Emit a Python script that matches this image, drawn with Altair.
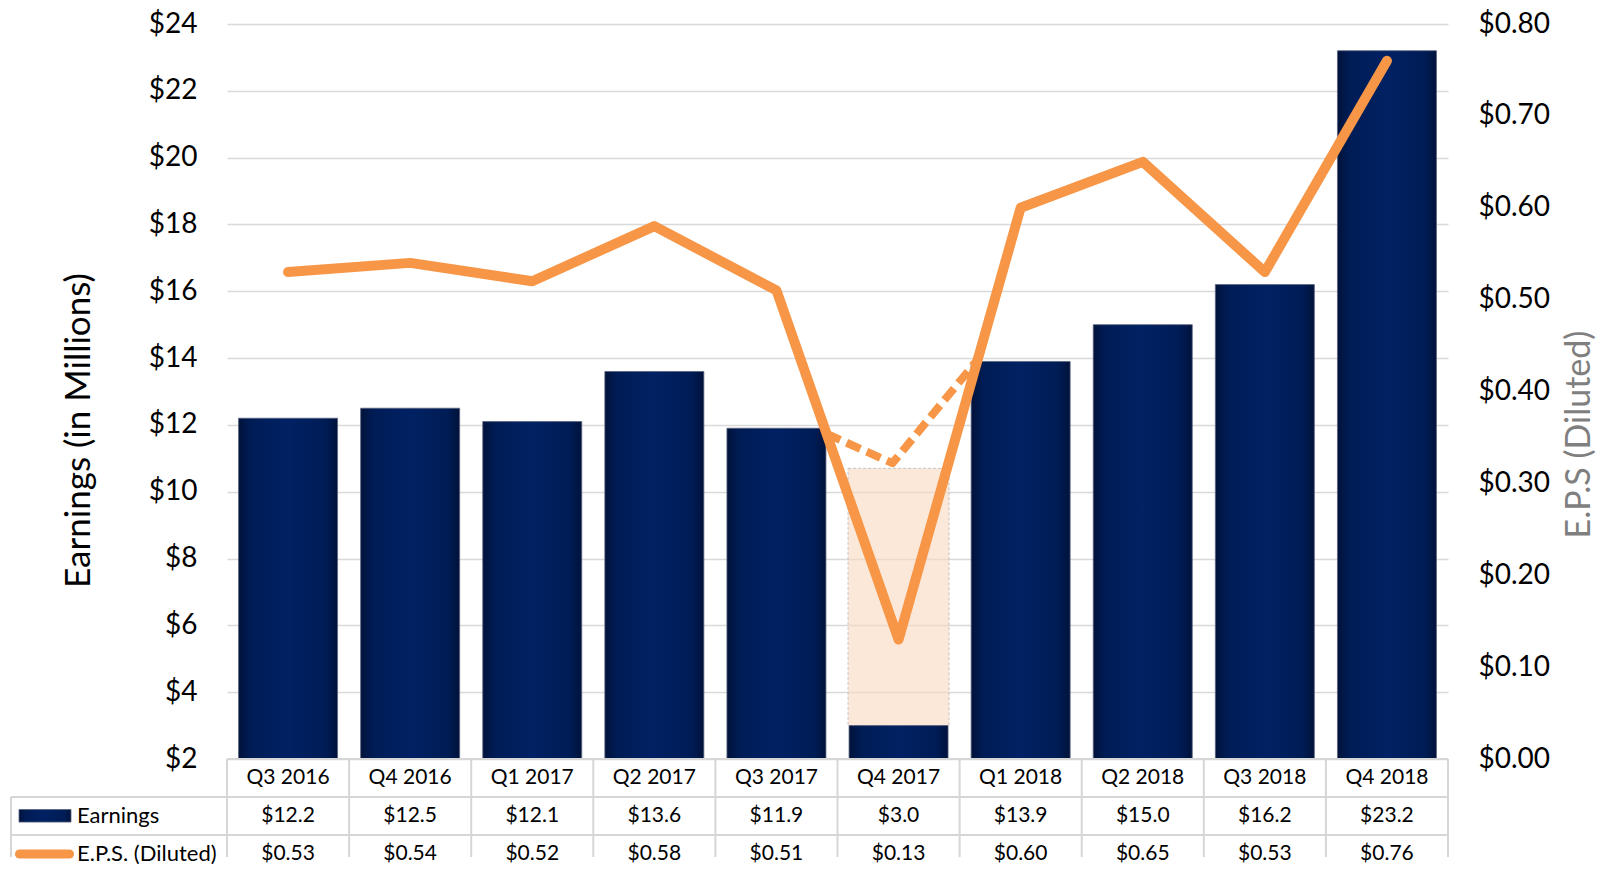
import altair as alt
import pandas as pd

# ---------------- data ----------------
quarters = ["Q3 2016", "Q4 2016", "Q1 2017", "Q2 2017", "Q3 2017",
            "Q4 2017", "Q1 2018", "Q2 2018", "Q3 2018", "Q4 2018"]
earnings = [12.2, 12.5, 12.1, 13.6, 11.9, 3.0, 13.9, 15.0, 16.2, 23.2]
eps = [0.53, 0.54, 0.52, 0.58, 0.51, 0.13, 0.60, 0.65, 0.53, 0.76]

# adjusted Q4 2017 (light peach box and dashed line)
adj_quarter = "Q4 2017"
adj_earnings = 10.7
adj_line_pos = [4.41, 4.95, 5.65]      # position along the quarter axis
adj_line_eps = [0.354, 0.322, 0.435]

left_ticks = list(range(2, 25, 2))
right_ticks = [i / 10 for i in range(9)]

# ---------------- styling ----------------
FONT = "Lato"
ORANGE = "#F79646"
GRID = "#d9d9d9"
TABLE_LINE = "#d6d6d6"

n = len(quarters)
W = 1221
H = 735
ROW = 38
TBL_H = 98
CAT = W / n
LEFT_COL = 216  # width of the legend column of the data table


def px2idx(p):
    return -0.5 + p / CAT


df = pd.DataFrame({"idx": list(range(n)), "quarter": quarters,
                   "earnings": earnings, "eps": eps})
adj_i = quarters.index(adj_quarter)
df_adj = pd.DataFrame({"idx": [adj_i], "base": [earnings[adj_i]], "adj": [adj_earnings]})
df_dash = pd.DataFrame({"idx": adj_line_pos, "eps": adj_line_eps})

xscale = alt.Scale(domain=[-0.5, n - 0.5], nice=False, zero=False, padding=0)
x_enc = alt.X("idx:Q", scale=xscale, axis=None)

left_scale = alt.Scale(domain=[2, 24], nice=False, zero=False)
left_axis = alt.Axis(values=left_ticks, labelExpr="'$' + datum.value",
                     title="Earnings (in Millions)", grid=True, gridColor=GRID,
                     gridWidth=1.5, domain=False, ticks=False, tickSize=0,
                     labelFont=FONT, labelFontSize=28, labelColor="#000000",
                     labelPadding=30, titleFont=FONT, titleFontSize=35,
                     titleFontWeight="normal", titleColor="#000000",
                     titlePadding=52, titleY=406)
right_scale = alt.Scale(domain=[0, 0.8], nice=False, zero=True)
right_axis = alt.Axis(orient="right", values=right_ticks, format="$.2f",
                      title="E.P.S (Diluted)", grid=False, domain=False,
                      ticks=False, tickSize=0, labelFont=FONT, labelFontSize=28,
                      labelColor="#000000", labelPadding=30, titleFont=FONT,
                      titleFontSize=34, titleFontWeight="normal",
                      titleColor="#7f7f7f", titleAngle=270, titleBaseline="top",
                      titlePadding=13, titleY=410)

bar_grad = alt.Gradient(
    gradient="linear", x1=0, x2=1, y1=0, y2=0,
    stops=[alt.GradientStop(offset=0, color="#00123a"),
           alt.GradientStop(offset=0.12, color="#001c55"),
           alt.GradientStop(offset=0.5, color="#002163"),
           alt.GradientStop(offset=0.88, color="#001c55"),
           alt.GradientStop(offset=1, color="#00123a")])

bars = alt.Chart(df).mark_bar(size=99, color=bar_grad, stroke="#59637d",
                              strokeWidth=0.8).encode(
    x=x_enc,
    y=alt.Y("earnings:Q", scale=left_scale, axis=left_axis),
    y2=alt.datum(2),
)

peach = alt.Chart(df_adj).mark_bar(size=101, fill="#FAD9BF", fillOpacity=0.6,
                                   stroke="#c4c4c4", strokeDash=[3, 2],
                                   strokeWidth=1).encode(
    x=x_enc,
    y=alt.Y("adj:Q", scale=left_scale, axis=left_axis),
    y2="base:Q",
)

eps_line = alt.Chart(df).mark_line(color=ORANGE, strokeWidth=10,
                                   strokeCap="round", strokeJoin="round").encode(
    x=x_enc,
    y=alt.Y("eps:Q", scale=right_scale, axis=right_axis),
)

dash_line = alt.Chart(df_dash).mark_line(color=ORANGE, strokeWidth=8,
                                         strokeDash=[15, 7], strokeJoin="round").encode(
    x=x_enc,
    y=alt.Y("eps:Q", scale=right_scale, axis=right_axis),
)

top = alt.layer(
    alt.layer(peach, bars),
    alt.layer(eps_line, dash_line),
).resolve_scale(y="independent").properties(width=W, height=H)

# ---------------- data table ----------------
row_max = TBL_H / ROW
yscale_t = alt.Scale(domain=[0, row_max], reverse=True, nice=False, zero=False)
left_edge = px2idx(-LEFT_COL)

cells = []
for i in range(n):
    cells.append({"idx": i, "row": 0.5, "txt": quarters[i]})
    cells.append({"idx": i, "row": 1.5, "txt": "$%.1f" % earnings[i]})
    cells.append({"idx": i, "row": 2.5, "txt": "$%.2f" % eps[i]})
df_cells = pd.DataFrame(cells)

hlines = pd.DataFrame({
    "x": [-0.5, left_edge, left_edge],
    "x2": [n - 0.5, n - 0.5, n - 0.5],
    "row": [0, 1, 2],
})
vlines = pd.DataFrame({
    "x": [k - 0.5 for k in range(n + 1)] + [left_edge],
    "r1": [0] * (n + 1) + [1],
    "r2": [row_max] * (n + 2),
})

xt = alt.X("x:Q", scale=xscale, axis=None)
yt = alt.Y("row:Q", scale=yscale_t, axis=None)

h_rules = alt.Chart(hlines).mark_rule(color=TABLE_LINE, strokeWidth=2).encode(
    x=xt, x2="x2:Q", y=yt)
v_rules = alt.Chart(vlines).mark_rule(color=TABLE_LINE, strokeWidth=2).encode(
    x=xt, y=alt.Y("r1:Q", scale=yscale_t, axis=None), y2="r2:Q")

cell_text = alt.Chart(df_cells).mark_text(font=FONT, fontSize=21, color="#000000",
                                          align="center", baseline="middle").encode(
    x=alt.X("idx:Q", scale=xscale, axis=None), y=yt, text="txt:N")

legend_df = pd.DataFrame({
    "x": [px2idx(-150), px2idx(-150)],
    "row": [1.5, 2.5],
    "txt": ["Earnings", "E.P.S. (Diluted)"],
})
legend_text = alt.Chart(legend_df).mark_text(font=FONT, fontSize=22, color="#000000",
                                             align="left", baseline="middle").encode(
    x=xt, y=yt, text="txt:N")

sym_bar = alt.Chart(pd.DataFrame({"x": [px2idx(-208)], "x2": [px2idx(-156)],
                                  "row": [1.33], "row2": [1.66]})).mark_rect(
    color=bar_grad, stroke="#59637d", strokeWidth=0.8).encode(
    x=xt, x2="x2:Q", y=yt, y2="row2:Q")
sym_line = alt.Chart(pd.DataFrame({"x": [px2idx(-207.5), px2idx(-157.5)],
                                   "row": [2.5, 2.5]})).mark_line(
    color=ORANGE, strokeWidth=9, strokeCap="round", strokeJoin="round").encode(
    x=xt, y=yt)

table = alt.layer(h_rules, v_rules, cell_text, legend_text, sym_bar, sym_line
                  ).properties(width=W, height=TBL_H)

chart = alt.vconcat(top, table, spacing=0, bounds="flush").properties(
    padding={"left": 2, "top": 2, "right": 0, "bottom": 0}
).configure_view(stroke=None)

chart.save("out.html", embed_options={"renderer": "svg", "actions": False})
